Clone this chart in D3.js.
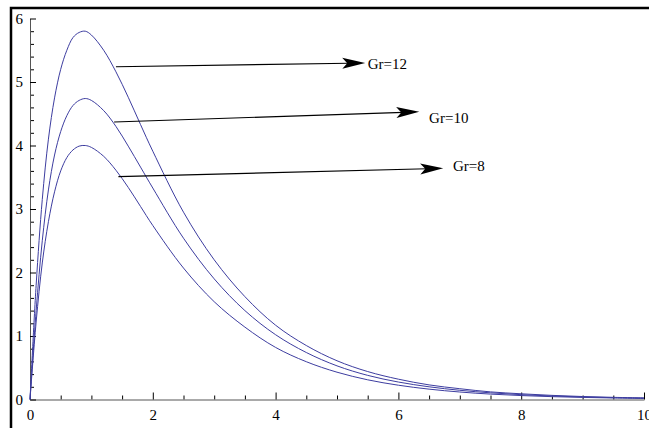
<!DOCTYPE html>
<html>
<head>
  <meta charset="utf-8">
  <title>Gr profiles</title>
  <style>
    body { margin: 0; background: #fff; }
    svg { display: block; }
    .domain { stroke: #555; }
    .tick line { stroke: #000; }
    .curve { fill: none; stroke: #3d3da0; stroke-width: 1; }
  </style>
</head>
<body>
  <svg id="canvas"></svg>
  <script src="https://d3js.org/d3.v7.min.js"></script>
  <script>
    // sampled positions along the horizontal axis
    const xs = [0, 0.1, 0.2, 0.3, 0.4, 0.5, 0.6, 0.7, 0.8, 0.9, 1.0, 1.2, 1.4, 1.6, 1.8, 2.0,
      2.5, 3.0, 3.5, 4.0, 4.5, 5.0, 5.5, 6.0, 6.5, 7.0, 7.5, 8.0, 8.5, 9.0, 9.5, 10];

    const gr12 = [0, 1.8, 3.15, 4.1, 4.75, 5.2, 5.5, 5.7, 5.78, 5.8, 5.74, 5.5, 5.16, 4.76, 4.33, 3.91,
      2.95, 2.2, 1.62, 1.17, 0.85, 0.61, 0.44, 0.32, 0.23, 0.17, 0.12, 0.09, 0.065, 0.047, 0.034, 0.025];
    const gr10 = [0, 1.4, 2.5, 3.3, 3.85, 4.22, 4.47, 4.63, 4.71, 4.74, 4.71, 4.55, 4.3, 3.99, 3.66, 3.33,
      2.54, 1.9, 1.4, 1.02, 0.74, 0.53, 0.38, 0.275, 0.2, 0.145, 0.105, 0.076, 0.055, 0.04, 0.029, 0.021];
    const gr8 = [0, 1.22, 2.15, 2.8, 3.27, 3.6, 3.81, 3.93, 3.99, 4.0, 3.97, 3.83, 3.61, 3.34, 3.04, 2.74,
      2.07, 1.54, 1.14, 0.82, 0.595, 0.43, 0.31, 0.225, 0.163, 0.118, 0.085, 0.062, 0.045, 0.033, 0.024, 0.017];

    const xMajor = [0, 2, 4, 6, 8, 10];
    const yMajor = [0, 1, 2, 3, 4, 5, 6];

    // arrow annotations in data units: tail, tip, label anchor
    const noteLabels = ["Gr=12", "Gr=10", "Gr=8"];
    const noteFrom = [[1.40, 5.24], [1.37, 4.37], [1.44, 3.51]];
    const noteTo = [[5.46, 5.30], [6.34, 4.53], [6.73, 3.64]];
    const noteText = [[5.50, 5.28], [6.50, 4.43], [6.89, 3.67]];

    const serif = '"Liberation Serif", "DejaVu Serif", "Times New Roman", serif';
    const W = 649, H = 428;
    const svg = d3.select("#canvas").attr("width", W).attr("height", H);

    const x = d3.scaleLinear().domain([0, 10]).range([30, 644]);
    const y = d3.scaleLinear().domain([0, 6]).range([399.5, 18.5]);

    // outer frame, runs past the right and bottom edges
    svg.append("rect")
      .attr("x", 11).attr("y", 8)
      .attr("width", 700).attr("height", 500)
      .attr("fill", "none").attr("stroke", "#000").attr("stroke-width", 2.5);

    const xMinor = d3.range(0, 10.01, 0.5).filter(v => !xMajor.includes(v));
    const yMinor = d3.range(0, 6.01, 0.2).map(v => +v.toFixed(1)).filter(v => !yMajor.includes(v));

    // minor ticks first, no labels
    svg.append("g")
      .attr("transform", "translate(0,399.5)")
      .call(d3.axisBottom(x).tickValues(xMinor).tickFormat("").tickSize(-4).tickSizeOuter(0))
      .call(g => g.select(".domain").remove());
    svg.append("g")
      .attr("transform", "translate(30,0)")
      .call(d3.axisLeft(y).tickValues(yMinor).tickFormat("").tickSize(-4).tickSizeOuter(0))
      .call(g => g.select(".domain").remove());

    svg.append("g")
      .attr("transform", "translate(0,399.5)")
      .call(d3.axisBottom(x).tickValues(xMajor).tickFormat(d3.format("d")).tickSize(-7).tickSizeOuter(0).tickPadding(10))
      .attr("font-family", serif).attr("font-size", 15);
    svg.append("g")
      .attr("transform", "translate(30,0)")
      .call(d3.axisLeft(y).tickValues(yMajor).tickFormat(d3.format("d")).tickSize(-6).tickSizeOuter(0).tickPadding(7))
      .attr("font-family", serif).attr("font-size", 15);

    const line = d3.line()
      .x((d, i) => x(xs[i]))
      .y(d => y(d))
      .curve(d3.curveCatmullRom.alpha(0.5));

    [gr12, gr10, gr8].forEach(s => {
      svg.append("path").attr("class", "curve").attr("d", line(s));
    });

    // arrows with filled, notched heads
    const notes = svg.append("g")
      .attr("font-family", serif).attr("font-size", 15);
    noteLabels.forEach((lab, i) => {
      const x0 = x(noteFrom[i][0]), y0 = y(noteFrom[i][1]);
      const x1 = x(noteTo[i][0]), y1 = y(noteTo[i][1]);
      const a = Math.atan2(y1 - y0, x1 - x0);
      notes.append("line")
        .attr("x1", x0).attr("y1", y0)
        .attr("x2", x1 - 16 * Math.cos(a))
        .attr("y2", y1 - 16 * Math.sin(a))
        .attr("stroke", "#000").attr("stroke-width", 1.1);
      notes.append("path")
        .attr("d", "M0,0L-23,-5.5L-18,0L-23,5.5Z")
        .attr("transform", `translate(${x1},${y1})rotate(${a * 180 / Math.PI})`)
        .attr("fill", "#000");
      notes.append("text")
        .attr("x", x(noteText[i][0]))
        .attr("y", y(noteText[i][1]))
        .attr("dominant-baseline", "central")
        .text(lab);
    });
  </script>
</body>
</html>
